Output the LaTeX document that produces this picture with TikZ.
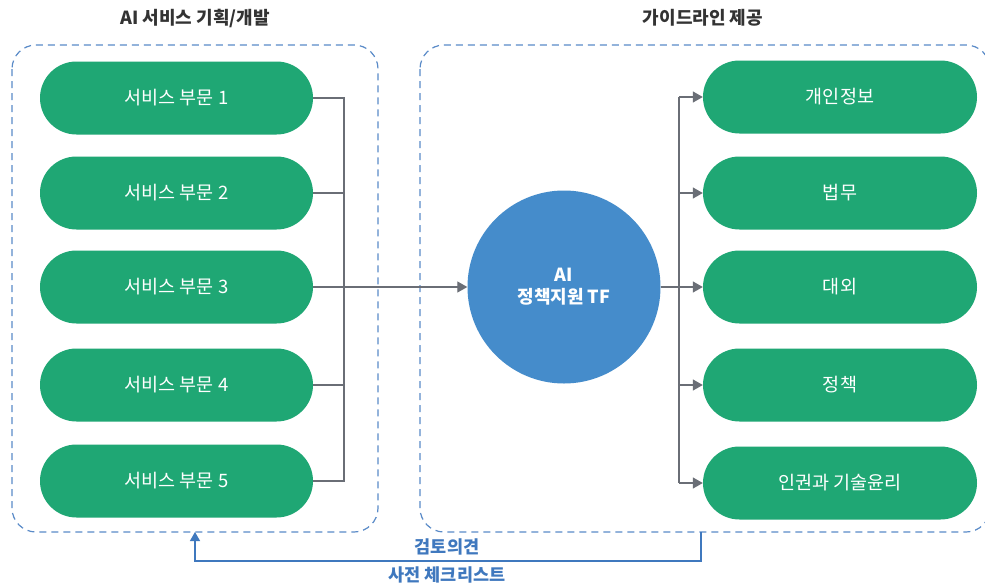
\documentclass[tikz,border=0pt]{standalone}
\usepackage{fontspec}
\setmainfont{Noto Sans CJK KR}
\usetikzlibrary{arrows.meta,positioning}
\definecolor{pillgreen}{HTML}{1FA774}
\definecolor{circblue}{HTML}{458CCB}
\definecolor{dashblue}{HTML}{5A8BC8}
\definecolor{linegray}{HTML}{6A6E76}
\definecolor{titlegray}{HTML}{333333}
\definecolor{fbblue}{HTML}{3F78BE}
\tikzset{
  pill/.style={draw=none,fill=pillgreen,rounded corners=36.5pt,minimum width=273pt,minimum height=73pt,text=white,font=\fontsize{18.5}{20}\selectfont,inner sep=0pt},
  groupbox/.style={draw=dashblue,line width=1.2pt,dash pattern=on 7pt off 5pt,rounded corners=24pt},
  conn/.style={draw=linegray,line width=1.2pt},
  arr/.style={conn,-{Triangle[length=10pt,width=11pt]}},
  title/.style={text=titlegray,font=\bfseries\fontsize{18}{20}\selectfont},
  fb/.style={text=fbblue,font=\bfseries\fontsize{17.5}{19}\selectfont}
}
\begin{document}
\begin{tikzpicture}[x=1pt,y=-1pt]
\useasboundingbox (0,0) rectangle (985,587);
\fill[white] (0,0) rectangle (985,587);
% group boxes
\draw[groupbox] (12,45) rectangle (378,532);
\draw[groupbox] (420,45) rectangle (990,532);
\node[title] (t1) at (195,18) {AI 서비스 기획/개발};
\node[title] (t2) at (703,18) {가이드라인 제공};
% left pills
\node[pill] (s1) at (176.5,98) {서비스 부문 1};
\node[pill] (s2) at (176.5,193) {서비스 부문 2};
\node[pill] (s3) at (176.5,287) {서비스 부문 3};
\node[pill] (s4) at (176.5,385) {서비스 부문 4};
\node[pill] (s5) at (176.5,481) {서비스 부문 5};
% right pills
\node[pill,minimum width=274pt] (g1) at (840,97) {개인정보};
\node[pill,minimum width=274pt] (g2) at (840,193) {법무};
\node[pill,minimum width=274pt] (g3) at (840,287) {대외};
\node[pill,minimum width=274pt] (g4) at (840,385) {정책};
\node[pill,minimum width=274pt] (g5) at (840,483) {인권과 기술윤리};
% center circle
\node[circle,fill=circblue,minimum size=193pt,inner sep=0pt,text=white,align=center,font=\bfseries\fontsize{18}{22}\selectfont] (tf) at (564,287) {AI\\정책지원 TF};
% left bus
\coordinate (lb1) at (344,98);
\coordinate (lb5) at (344,481);
\draw[conn] (s1.east) -- (lb1) -- (lb5) -- (s5.east);
\draw[conn] (s2.east) -- (s2.east -| lb1);
\draw[conn] (s4.east) -- (s4.east -| lb1);
\draw[arr] (s3.east) -- (tf.west);
% right bus
\coordinate (rb1) at (679,97);
\coordinate (rb5) at (679,483);
\draw[conn] (rb1) -- (rb5);
\draw[arr] (tf.east) -- (g3.west);
\draw[arr] (rb1) -- (g1.west);
\draw[arr] (g2.west -| rb1) -- (g2.west);
\draw[arr] (g4.west -| rb1) -- (g4.west);
\draw[arr] (rb5) -- (g5.west);
% feedback
\coordinate (fbs) at (701,532);
\coordinate (fbe) at (195,532);
\draw[draw=fbblue,line width=1.2pt,-{Triangle[length=9pt,width=10pt]}] (fbs) -- (701,561) -- (195,561) -- (fbe);
\node[fb] (fb1) at (447,547) {검토의견};
\node[fb] (fb2) at (447,575) {사전 체크리스트};
\end{tikzpicture}
\end{document}
